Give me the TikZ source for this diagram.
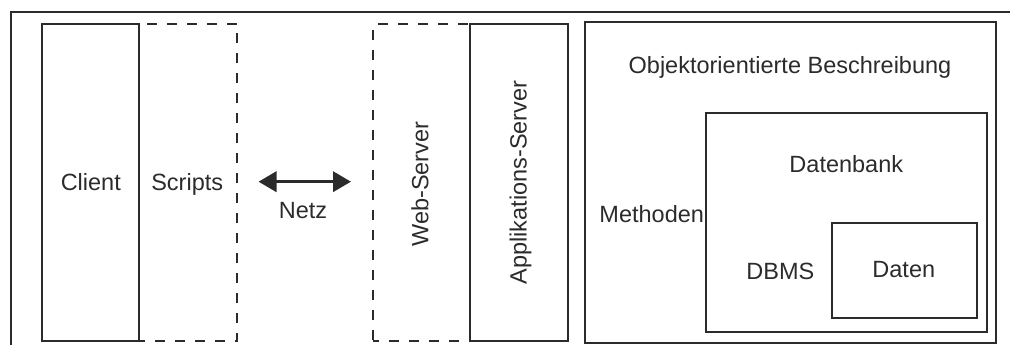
\documentclass[tikz,border=0pt]{standalone}
\usepackage{fontspec}
\setmainfont{Liberation Sans}
\usetikzlibrary{arrows.meta}
\definecolor{ink}{HTML}{2B2B2B}
\begin{document}
\begin{tikzpicture}[x=1pt,y=1pt,
  box/.style={draw=ink, line width=2pt, rectangle, inner sep=0pt, outer sep=0pt},
  dbox/.style={box, dash pattern=on 10pt off 10pt, dash phase=4pt},
  lbl/.style={text=ink, font=\fontsize{23.5}{28}\selectfont, inner sep=0pt, anchor=base},
  vlbl/.style={lbl, rotate=90},
  biarrow/.style={draw=ink, line width=3.6pt, >={Triangle[length=18pt,width=20pt]}, <->}]
\useasboundingbox (0,0) rectangle (1010,345);

% open frame (top and left edge)
\draw[ink, line width=2pt] (10.5,-5) -- (10.5,333) -- (1015,333);

% client side
\node[dbox, minimum width=98pt, minimum height=317.2pt] (scripts) at (188.3,162.1) {};
\node[box, minimum width=97.6pt, minimum height=317.2pt] (client) at (90.5,162.1) {};
\node[lbl] (tclient) at (90.8,154.3) {Client};
\node[lbl] (tscripts) at (187.2,154.3) {Scripts};

% network
\coordinate (netl) at (258.5,163.3);
\coordinate (netr) at (351,163.3);
\draw[biarrow] (netl) -- (netr);
\node[lbl] (tnetz) at (303,126) {Netz};

% server side
\node[dbox, minimum width=96.7pt, minimum height=317.2pt] (web) at (421.65,162.1) {};
\node[box, minimum width=98.3pt, minimum height=317.2pt] (app) at (519.15,162.1) {};
\node[vlbl] (tweb) at (428.3,161) {Web-Server};
\node[vlbl] (tapp) at (526.7,162.5) {Applikations-Server};

% object-oriented description with database
\node[box, minimum width=411.3pt, minimum height=321.6pt] (oo) at (790.35,162.5) {};
\node[box, minimum width=281.6pt, minimum height=218.4pt] (db) at (846.5,122.5) {};
\node[box, minimum width=145pt, minimum height=95.6pt] (daten) at (904.2,74.5) {};
\node[lbl] (too) at (790,271.7) {Objektorientierte Beschreibung};
\node[lbl] (tdb) at (846.3,172.7) {Datenbank};
\node[lbl] (tmeth) at (651.7,122.3) {Methoden};
\node[lbl] (tdbms) at (780.3,65.7) {DBMS};
\node[lbl] (tdaten) at (903.8,67.3) {Daten};
\end{tikzpicture}
\end{document}
